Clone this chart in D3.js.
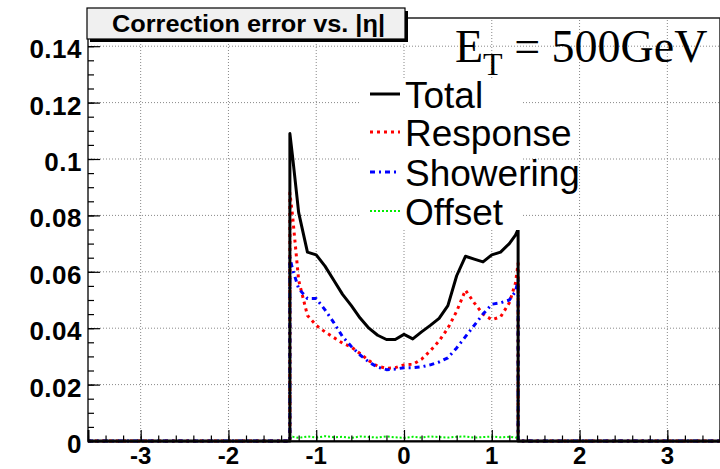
<!DOCTYPE html>
<html>
<head>
<meta charset="utf-8">
<script src="https://cdn.jsdelivr.net/npm/d3@7"></script>
<style>
  html, body { margin: 0; padding: 0; background: #fff; }
  svg { display: block; }
</style>
</head>
<body>
<svg id="chart"></svg>
<script>
// eta positions of the points (inside |eta| < 1.3)
const eta = [-1.3, -1.27, -1.2, -1.1, -1.0, -0.9, -0.8, -0.7, -0.6, -0.5, -0.4, -0.3, -0.2, -0.1,
  0.0, 0.1, 0.2, 0.3, 0.4, 0.5, 0.6, 0.7, 0.8, 0.9, 1.0, 1.1, 1.2, 1.27, 1.3];

const totalErr = [0.109, 0.101, 0.081, 0.067, 0.066, 0.062, 0.057, 0.052, 0.048, 0.0436, 0.040, 0.0375, 0.036, 0.036,
  0.0378, 0.0362, 0.0387, 0.041, 0.0435, 0.048, 0.0586, 0.0655, 0.0645, 0.0635, 0.066, 0.067, 0.070, 0.073, 0.075];

const responseErr = [0.088, 0.080, 0.057, 0.0445, 0.041, 0.0387, 0.0367, 0.0347, 0.0333, 0.031, 0.0285, 0.0265, 0.0258, 0.026,
  0.027, 0.0272, 0.029, 0.032, 0.0355, 0.040, 0.046, 0.0535, 0.049, 0.045, 0.043, 0.044, 0.049, 0.056, 0.063];

const showeringErr = [0.065, 0.061, 0.054, 0.0505, 0.0505, 0.0465, 0.042, 0.037, 0.0335, 0.0305, 0.028, 0.0262, 0.0253, 0.0255,
  0.026, 0.026, 0.0263, 0.027, 0.028, 0.0295, 0.033, 0.037, 0.041, 0.045, 0.0485, 0.049, 0.050, 0.053, 0.057];

const offsetErr = [0.0012, 0.0015, 0.0011, 0.0016, 0.0012, 0.0017, 0.0013, 0.0015, 0.0011, 0.0016, 0.0014, 0.0012, 0.0016, 0.0013,
  0.0011, 0.0015, 0.0012, 0.0016, 0.0014, 0.0012, 0.0015, 0.0016, 0.0012, 0.0014, 0.0016, 0.0013, 0.0015, 0.0012, 0.0014];

// everything outside the barrel is zero
const etaRange = [-3.6, 3.6];
const etaEdge = 1.3;

const xTicks = [-3, -2, -1, 0, 1, 2, 3];
const yTicks = [0, 0.02, 0.04, 0.06, 0.08, 0.1, 0.12, 0.14];

const seriesNames = ['Total', 'Response', 'Showering', 'Offset'];

const width = 720;
const height = 469;
const marginTop = 18;
const marginRight = 0;
const marginBottom = 28;
const marginLeft = 88;

const svg = d3.select('#chart')
  .attr('width', width)
  .attr('height', height)
  .attr('viewBox', [0, 0, width, height]);

const x = d3.scaleLinear().domain(etaRange).range([marginLeft, width - marginRight]);
const y = d3.scaleLinear().domain([0, 0.15]).range([height - marginBottom, marginTop]);

// grid
const grid = svg.append('g')
  .attr('stroke', '#888')
  .attr('stroke-width', 1)
  .attr('stroke-dasharray', '1,2');
grid.selectAll('line.gx').data(xTicks).join('line')
  .attr('x1', (d) => x(d)).attr('x2', (d) => x(d))
  .attr('y1', y(0)).attr('y2', marginTop);
grid.selectAll('line.gy').data(yTicks.filter((d) => d > 0)).join('line')
  .attr('x1', marginLeft).attr('x2', width)
  .attr('y1', (d) => y(d)).attr('y2', (d) => y(d));

// curves
const withEdges = (vals) => [
  [etaRange[0], 0], [-etaEdge, 0],
  ...eta.map((e, i) => [e, vals[i]]),
  [etaEdge, 0], [etaRange[1], 0]
];
const line = d3.line().x((d) => x(d[0])).y((d) => y(d[1]));

const styles = [
  { vals: totalErr, color: '#000', width: 3, dash: null },
  { vals: responseErr, color: '#ff0000', width: 3, dash: '3,4' },
  { vals: showeringErr, color: '#0000ff', width: 3, dash: '5,4,2,4' },
  { vals: offsetErr, color: '#00ee00', width: 2, dash: '2,2' }
];

// draw the colored series first so the black total stays on top at the edges
[1, 2, 3, 0].forEach((i) => {
  const s = styles[i];
  svg.append('path')
    .datum(withEdges(s.vals))
    .attr('fill', 'none')
    .attr('stroke', s.color)
    .attr('stroke-width', s.width)
    .attr('stroke-dasharray', s.dash)
    .attr('stroke-linejoin', 'round')
    .attr('d', line);
});

// frame and axes
svg.append('rect')
  .attr('x', marginLeft).attr('y', marginTop)
  .attr('width', width - marginLeft).attr('height', y(0) - marginTop)
  .attr('fill', 'none').attr('stroke', '#222').attr('stroke-width', 1.5);

svg.append('g')
  .attr('transform', `translate(0,${y(0)})`)
  .call(d3.axisTop(x).tickValues(d3.range(-3.6, 3.61, 0.2)).tickSize(5.5).tickFormat(''))
  .call((g) => g.select('.domain').remove())
  .call((g) => g.selectAll('line').attr('stroke', '#000').attr('stroke-width', 1.2));

svg.append('g')
  .attr('transform', `translate(0,${y(0)})`)
  .call(d3.axisTop(x).tickValues(xTicks).tickSize(11).tickFormat(''))
  .call((g) => g.select('.domain').attr('stroke', '#000').attr('stroke-width', 2))
  .call((g) => g.selectAll('line').attr('stroke', '#000').attr('stroke-width', 1.2));

svg.append('g')
  .selectAll('text').data(xTicks).join('text')
  .attr('x', (d) => x(d))
  .attr('y', 464)
  .attr('text-anchor', 'middle')
  .attr('font-family', 'Liberation Sans, Arial, sans-serif')
  .attr('font-weight', 'bold')
  .attr('font-size', 24)
  .text((d) => d);

svg.append('g')
  .attr('transform', `translate(${marginLeft},0)`)
  .call(d3.axisRight(y).tickValues(d3.range(0, 0.1501, 0.005)).tickSize(6).tickFormat(''))
  .call((g) => g.select('.domain').remove())
  .call((g) => g.selectAll('line').attr('stroke', '#000').attr('stroke-width', 1.2));

svg.append('g')
  .attr('transform', `translate(${marginLeft},0)`)
  .call(d3.axisRight(y).tickValues(yTicks).tickSize(12).tickFormat(''))
  .call((g) => g.select('.domain').remove())
  .call((g) => g.selectAll('line').attr('stroke', '#000').attr('stroke-width', 1.2));

svg.append('g')
  .selectAll('text').data(yTicks).join('text')
  .attr('x', 82)
  .attr('y', (d) => y(d) + 12)
  .attr('text-anchor', 'end')
  .attr('font-family', 'Liberation Sans, Arial, sans-serif')
  .attr('font-weight', 'bold')
  .attr('font-size', 26)
  .attr('letter-spacing', 0.5)
  .text((d) => d);

// title box
svg.append('rect')
  .attr('x', 90).attr('y', 11).attr('width', 318).attr('height', 31)
  .attr('fill', '#000');
svg.append('rect')
  .attr('x', 87).attr('y', 8).attr('width', 318).attr('height', 31)
  .attr('fill', '#f0f0f0').attr('stroke', '#000').attr('stroke-width', 1.2);
svg.append('text')
  .attr('x', 112).attr('y', 32)
  .attr('font-family', 'Liberation Sans, Arial, sans-serif')
  .attr('font-weight', 'bold')
  .attr('font-size', 23)
  .attr('textLength', 273)
  .attr('lengthAdjust', 'spacingAndGlyphs')
  .text('Correction error vs. |η|');

// legend
const legend = svg.append('g');
legend.append('rect')
  .attr('x', 360).attr('y', 78).attr('width', 163).attr('height', 152)
  .attr('fill', '#fff');
const rowY = [94, 132, 172, 211];
seriesNames.forEach((name, i) => {
  const s = styles[i];
  legend.append('line')
    .attr('x1', 370).attr('x2', 400)
    .attr('y1', rowY[i]).attr('y2', rowY[i])
    .attr('stroke', s.color)
    .attr('stroke-width', s.width)
    .attr('stroke-dasharray', s.dash);
  legend.append('text')
    .attr('x', 405).attr('y', rowY[i] + 14)
    .attr('font-family', 'Liberation Sans, Arial, sans-serif')
    .attr('font-size', 37)
    .text(name);
});

// energy label
const et = svg.append('text')
  .attr('x', 455).attr('y', 62)
  .attr('font-family', 'Liberation Serif, Times New Roman, serif')
  .attr('font-size', 46);
et.append('tspan').text('E');
et.append('tspan').attr('dy', 13).attr('font-size', 32).text('T');
et.append('tspan').attr('dy', -13).text(' = 500GeV');
</script>
</body>
</html>
